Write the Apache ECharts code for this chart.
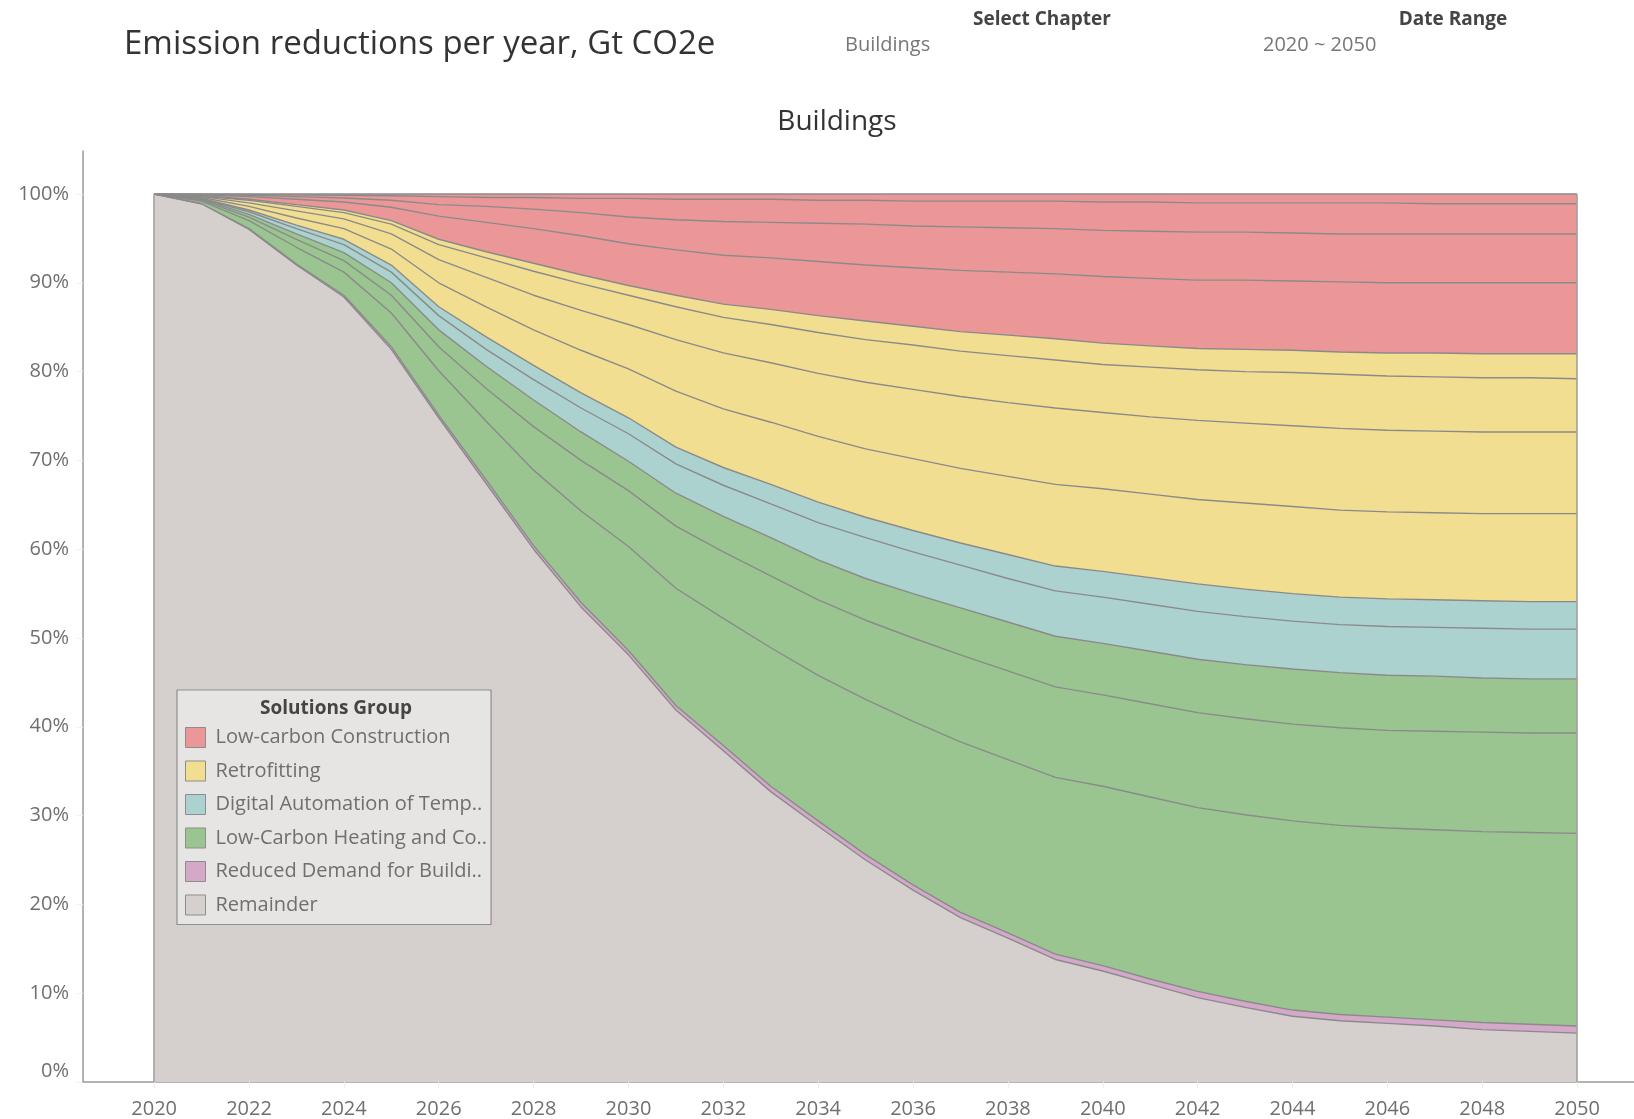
<!DOCTYPE html>
<html>
<head>
<meta charset="utf-8">
<title>Emission reductions per year</title>
<script src="https://cdn.jsdelivr.net/npm/echarts@6/dist/echarts.min.js"></script>
<style>
  html, body { margin: 0; padding: 0; background: #fff; }
  #chart { width: 1634px; height: 1119px; }
</style>
</head>
<body>
<div id="chart"></div>
<script>
// years on the x axis
var years = [2020, 2021, 2022, 2023, 2024, 2025, 2026, 2027, 2028, 2029, 2030,
  2031, 2032, 2033, 2034, 2035, 2036, 2037, 2038, 2039, 2040,
  2041, 2042, 2043, 2044, 2045, 2046, 2047, 2048, 2049, 2050]
var xTicks = [2020, 2022, 2024, 2026, 2028, 2030, 2032, 2034, 2036, 2038, 2040, 2042, 2044, 2046, 2048, 2050]
var yTicks = [0, 10, 20, 30, 40, 50, 60, 70, 80, 90, 100]

// share of each layer per year (bottom to top)
var remainder = [100, 98.9, 96.0, 92.0, 88.4, 82.5, 74.8, 67.4, 60.0, 53.5, 48.1, 41.9, 37.3, 32.7, 28.8, 25.0, 21.6, 18.5, 16.2, 13.8, 12.5, 11.0, 9.5, 8.4, 7.4, 6.9, 6.6, 6.3, 5.9, 5.7, 5.5]
var reducedDemand = [0, 0, 0.1, 0.1, 0.2, 0.3, 0.3, 0.4, 0.4, 0.5, 0.5, 0.5, 0.6, 0.6, 0.6, 0.6, 0.6, 0.6, 0.6, 0.6, 0.6, 0.6, 0.7, 0.7, 0.7, 0.7, 0.7, 0.7, 0.8, 0.8, 0.8]
var heatingA = [0, 0.3, 0.9, 1.9, 2.6, 3.8, 5.0, 6.6, 8.5, 10.3, 11.7, 13.2, 14.3, 15.6, 16.4, 17.5, 18.4, 19.2, 19.5, 19.9, 20.2, 20.5, 20.7, 21.0, 21.3, 21.3, 21.3, 21.4, 21.5, 21.6, 21.7]
var heatingB = [0, 0.1, 0.4, 0.9, 1.3, 2.0, 2.7, 3.7, 4.9, 5.7, 6.3, 7.0, 7.5, 8.1, 8.5, 8.9, 9.4, 9.8, 10.0, 10.2, 10.3, 10.5, 10.7, 10.8, 10.9, 11.0, 11.0, 11.1, 11.2, 11.2, 11.3]
var heatingC = [0, 0.1, 0.3, 0.6, 0.9, 1.4, 1.9, 2.5, 3.0, 3.2, 3.3, 3.7, 4.0, 4.3, 4.5, 4.7, 5.0, 5.3, 5.5, 5.7, 5.8, 5.9, 6.0, 6.1, 6.2, 6.2, 6.2, 6.2, 6.1, 6.1, 6.1]
var automationA = [0, 0.06, 0.3, 0.6, 0.9, 1.2, 1.6, 1.9, 2.3, 2.7, 3.1, 3.3, 3.5, 3.8, 4.2, 4.6, 4.7, 4.8, 4.9, 5.1, 5.2, 5.3, 5.4, 5.4, 5.4, 5.4, 5.5, 5.5, 5.6, 5.6, 5.6]
var automationB = [0, 0.04, 0.2, 0.4, 0.6, 0.8, 1.0, 1.4, 1.6, 1.7, 1.8, 1.9, 2.0, 2.2, 2.3, 2.3, 2.4, 2.5, 2.7, 2.8, 2.9, 3.0, 3.1, 3.1, 3.1, 3.1, 3.1, 3.1, 3.1, 3.1, 3.1]
var retrofitA = [0, 0.1, 0.4, 0.8, 1.2, 1.8, 2.7, 3.4, 4.0, 4.8, 5.5, 6.3, 6.6, 7.0, 7.4, 7.7, 8.1, 8.4, 8.8, 9.2, 9.3, 9.4, 9.5, 9.7, 9.8, 9.8, 9.8, 9.8, 9.8, 9.9, 9.9]
var retrofitB = [0, 0.1, 0.4, 0.8, 1.1, 1.7, 2.6, 3.3, 3.9, 4.5, 5.0, 5.8, 6.3, 6.7, 7.1, 7.5, 7.8, 8.1, 8.3, 8.6, 8.6, 8.7, 8.9, 9.0, 9.1, 9.2, 9.2, 9.2, 9.2, 9.2, 9.2]
var retrofitC = [0, 0.07, 0.3, 0.5, 0.7, 1.1, 1.7, 2.2, 2.7, 3.0, 3.3, 3.7, 4.0, 4.3, 4.6, 4.8, 5.0, 5.1, 5.3, 5.4, 5.4, 5.6, 5.7, 5.8, 6.0, 6.1, 6.1, 6.1, 6.1, 6.1, 6.0]
var retrofitD = [0, 0.03, 0.1, 0.2, 0.3, 0.4, 0.6, 0.7, 0.9, 1.0, 1.1, 1.3, 1.5, 1.7, 1.9, 2.1, 2.1, 2.2, 2.3, 2.4, 2.4, 2.4, 2.4, 2.5, 2.5, 2.5, 2.6, 2.7, 2.7, 2.7, 2.8]
var constructionA = [0, 0.1, 0.3, 0.6, 0.9, 1.5, 2.6, 3.3, 3.9, 4.4, 4.7, 5.1, 5.5, 5.8, 6.1, 6.3, 6.6, 6.9, 7.1, 7.3, 7.5, 7.6, 7.7, 7.8, 7.8, 7.9, 7.9, 7.9, 8.0, 8.0, 8.0]
var constructionB = [0, 0.05, 0.15, 0.3, 0.45, 0.8, 1.3, 1.8, 2.2, 2.6, 3.0, 3.4, 3.8, 4.0, 4.3, 4.6, 4.7, 4.9, 5.0, 5.1, 5.2, 5.3, 5.4, 5.4, 5.4, 5.4, 5.5, 5.5, 5.5, 5.5, 5.5]
var constructionC = [0, 0.03, 0.1, 0.2, 0.3, 0.5, 0.9, 1.0, 1.3, 1.6, 2.1, 2.3, 2.5, 2.6, 2.6, 2.7, 2.8, 2.9, 3.0, 3.1, 3.2, 3.3, 3.3, 3.3, 3.4, 3.5, 3.5, 3.4, 3.4, 3.4, 3.4]
var constructionD = [0, 0.02, 0.05, 0.1, 0.15, 0.2, 0.3, 0.4, 0.4, 0.5, 0.5, 0.6, 0.6, 0.6, 0.7, 0.7, 0.8, 0.8, 0.8, 0.8, 0.9, 0.9, 1.0, 1.0, 1.0, 1.0, 1.0, 1.1, 1.1, 1.1, 1.1]

// legend groups, top to bottom as in the legend
var groupNames = ['Low-carbon Construction', 'Retrofitting', 'Digital Automation of Temp..',
  'Low-Carbon Heating and Co..', 'Reduced Demand for Buildi..', 'Remainder']
var groupColors = ['#ec9797', '#f2de91', '#acd2cf', '#9ac590', '#d4a8c9', '#d5d0cd']

// stacking order, bottom first
var layers = [
  { group: 5, values: remainder },
  { group: 4, values: reducedDemand },
  { group: 3, values: heatingA },
  { group: 3, values: heatingB },
  { group: 3, values: heatingC },
  { group: 2, values: automationA },
  { group: 2, values: automationB },
  { group: 1, values: retrofitA },
  { group: 1, values: retrofitB },
  { group: 1, values: retrofitC },
  { group: 1, values: retrofitD },
  { group: 0, values: constructionA },
  { group: 0, values: constructionB },
  { group: 0, values: constructionC },
  { group: 0, values: constructionD }
]

// percent of total per year
var totals = years.map(function (y, i) {
  var s = 0
  layers.forEach(function (l) { s += l.values[i] })
  return s
})

var labelColor = '#6f6f6f'
var fontFamily = '"Open Sans", "Noto Sans", sans-serif'

var seen = {}
var series = layers.map(function (l, k) {
  // first layer of a group carries the group name (used by the legend)
  var base = groupNames[l.group]
  seen[base] = (seen[base] || 0) + 1
  var name = seen[base] === 1 ? base : base + ' #' + seen[base]
  var s = {
    id: 'layer' + k,
    name: name,
    type: 'line',
    stack: 'share',
    symbol: 'none',
    showSymbol: false,
    smooth: false,
    itemStyle: { color: groupColors[l.group] },
    lineStyle: { color: '#8a8a8a', width: 1.4 },
    areaStyle: { color: groupColors[l.group], opacity: 1 },
    emphasis: { disabled: true },
    // share first so the stack runs on the share, year on x
    encode: { x: 1, y: 0 },
    data: years.map(function (y, i) {
      return [l.values[i] / totals[i] * 100, y]
    })
  }
  if (k === 0) {
    // edges of the area at the first and last year
    s.markLine = {
      silent: true,
      symbol: 'none',
      label: { show: false },
      lineStyle: { color: '#a0a0a0', width: 1.6, type: 'solid' },
      data: [
        [{ coord: [years[0], 0] }, { coord: [years[0], 100] }],
        [{ coord: [years[years.length - 1], 0] }, { coord: [years[years.length - 1], 100] }]
      ]
    }
  }
  return s
})

var chart = echarts.init(document.getElementById('chart'))
chart.setOption({
  backgroundColor: '#ffffff',
  animation: false,
  textStyle: { fontFamily: fontFamily },
  title: [
    {
      text: 'Emission reductions per year, Gt CO2e',
      left: 119, top: 23,
      textStyle: { fontSize: 33, fontWeight: 'normal', color: '#333333', fontFamily: fontFamily }
    },
    {
      text: 'Select Chapter',
      left: 1037, top: 5, textAlign: 'center',
      textStyle: { fontSize: 19, fontWeight: 'bold', color: '#444444', fontFamily: fontFamily }
    },
    {
      text: 'Buildings',
      left: 840, top: 30,
      textStyle: { fontSize: 20, fontWeight: 'normal', color: '#777777', fontFamily: fontFamily }
    },
    {
      text: 'Date Range',
      left: 1448, top: 5, textAlign: 'center',
      textStyle: { fontSize: 19, fontWeight: 'bold', color: '#444444', fontFamily: fontFamily }
    },
    {
      text: '2020 ~ 2050',
      left: 1258, top: 30,
      textStyle: { fontSize: 20, fontWeight: 'normal', color: '#777777', fontFamily: fontFamily }
    },
    {
      text: 'Buildings',
      left: 832, top: 103, textAlign: 'center',
      textStyle: { fontSize: 28, fontWeight: 'normal', color: '#333333', fontFamily: fontFamily }
    },
    {
      text: 'Solutions Group',
      left: 331, top: 694, textAlign: 'center', z: 20,
      textStyle: { fontSize: 19, fontWeight: 'bold', color: '#444444', fontFamily: fontFamily }
    }
  ],
  legend: {
    orient: 'vertical',
    left: 177,
    top: 690,
    z: 10,
    data: groupNames,
    icon: 'rect',
    itemWidth: 20,
    itemHeight: 20,
    itemGap: 12.5,
    padding: [37, 4, 9, 8],
    backgroundColor: '#e6e5e4',
    borderColor: '#8f8f8f',
    borderWidth: 1.2,
    selectedMode: false,
    itemStyle: { borderColor: '#8d8d8d', borderWidth: 1 },
    textStyle: {
      fontSize: 20, color: labelColor, fontFamily: fontFamily,
      width: 298, overflow: 'truncate', padding: [0, 0, 0, 5]
    }
  },
  grid: { left: 83, right: 0, top: 151, bottom: 37, containLabel: false },
  xAxis: {
    type: 'value',
    min: 2018.5,
    max: 2051.2,
    axisLine: { show: true, lineStyle: { color: '#9a9a9a', width: 1.5 } },
    axisTick: { show: true, customValues: xTicks, length: 6, lineStyle: { color: '#eeeeee' } },
    splitLine: { show: false },
    axisLabel: {
      customValues: xTicks,
      margin: 17,
      fontSize: 20,
      color: labelColor,
      fontFamily: fontFamily,
      formatter: function (v) { return String(v) }
    }
  },
  yAxis: {
    type: 'value',
    min: 0,
    max: 104.84,
    axisLine: { show: true, lineStyle: { color: '#9a9a9a', width: 1.5 } },
    axisTick: { show: true, customValues: yTicks, length: 6, lineStyle: { color: '#f0f0f0' } },
    splitLine: { show: false },
    axisLabel: {
      customValues: yTicks,
      margin: 14,
      fontSize: 20,
      color: labelColor,
      fontFamily: fontFamily,
      formatter: function (v) { return v === 0 ? '{z|0%}' : v + '%' },
      rich: { z: { fontSize: 20, color: labelColor, padding: [0, 0, 22, 0] } }
    }
  },
  series: series
})
</script>
</body>
</html>
